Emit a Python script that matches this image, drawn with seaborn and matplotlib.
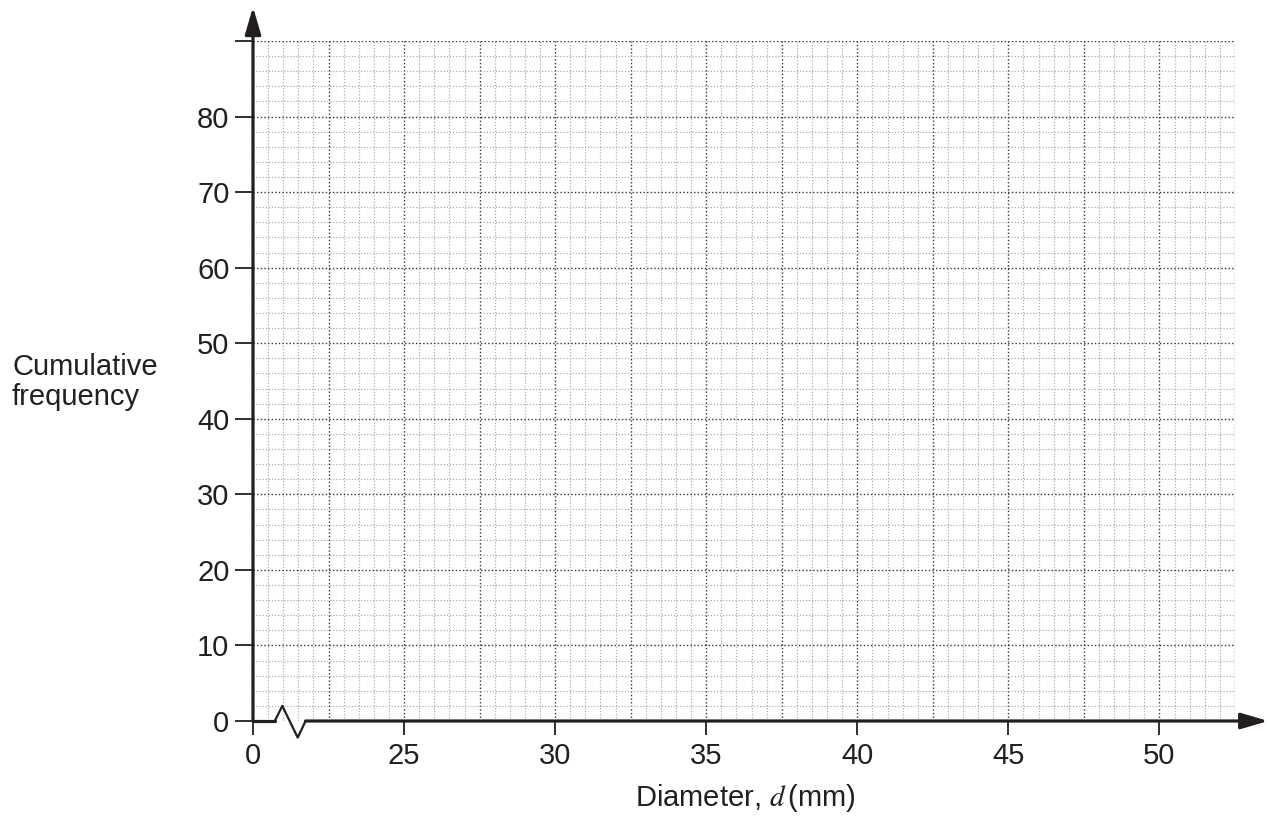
import matplotlib
matplotlib.use('Agg')
import matplotlib.pyplot as plt
import seaborn as sns
import numpy as np
import pandas as pd

# ---- data / axis definitions ----
x_tick_values = [20, 25, 30, 35, 40, 45, 50]
x_tick_labels = ['0', '25', '30', '35', '40', '45', '50']
y_tick_values = [0, 10, 20, 30, 40, 50, 60, 70, 80, 90]
y_tick_labels = ['0', '10', '20', '30', '40', '50', '60', '70', '80', '']
x_min, x_max = 20, 52.5
y_min, y_max = 0, 90
x_minor_step, x_major_step = 0.5, 2.5
y_minor_step, y_major_step = 2, 10
# axis-break zigzag on the x axis
break_x = [20.0, 20.72, 20.97, 21.48, 21.74]
break_y = [0.0, 0.0, 2.0, -2.2, 0.0]
x_arrow_end = 53.6
y_arrow_end = 94.5

sns.set_theme(style='white')
plt.rcParams['font.family'] = ['Liberation Sans', 'DejaVu Sans']
plt.rcParams['mathtext.fontset'] = 'stix'

ink = '#231f20'
fs = 21

fig = plt.figure(figsize=(12.71, 8.25), dpi=100)
W, H = 1271, 825
ax = fig.add_axes([253 / W, 1 - 721 / H, (1235 - 253) / W, (721 - 41) / H])
ax.set_xlim(x_min, x_max)
ax.set_ylim(y_min, y_max)
for s in ax.spines.values():
    s.set_visible(False)

dots = (0, (1.0, 1.6))
# vertical grid lines
xs = np.round(np.arange(x_min + x_minor_step, x_max + 1e-9, x_minor_step), 3)
for x in xs:
    major = abs((x - x_min) / x_major_step - round((x - x_min) / x_major_step)) < 1e-6
    ax.vlines(x, y_min, y_max, colors='#333333' if major else '#a8a8a8',
              linestyles=[dots], lw=1.0 if major else 0.85, zorder=1)
# horizontal grid lines
ys = np.round(np.arange(y_min + y_minor_step, y_max + 1e-9, y_minor_step), 3)
for y in ys:
    major = abs(y / y_major_step - round(y / y_major_step)) < 1e-6
    ax.hlines(y, x_min, x_max, colors='#333333' if major else '#a8a8a8',
              linestyles=[dots], lw=1.0 if major else 0.85, zorder=1)

# x axis: start segment + zigzag break
brk = pd.DataFrame({'x': break_x, 'y': break_y})
sns.lineplot(data=brk.iloc[:2], x='x', y='y', ax=ax, color=ink, lw=2.3,
             sort=False, clip_on=False, zorder=5)
sns.lineplot(data=brk.iloc[1:], x='x', y='y', ax=ax, color=ink, lw=1.6,
             sort=False, clip_on=False, zorder=5)

arrow_kw = dict(arrowstyle='-|>,head_length=0.75,head_width=0.22', lw=2.3,
                color=ink, mutation_scale=22, shrinkA=0, shrinkB=0)
ax.annotate('', xy=(x_arrow_end, 0), xytext=(break_x[-1], 0),
            arrowprops=arrow_kw, annotation_clip=False, zorder=6)
ax.annotate('', xy=(x_min, y_arrow_end), xytext=(x_min, 0),
            arrowprops=arrow_kw, annotation_clip=False, zorder=6)

ax.set_xticks(x_tick_values, x_tick_labels)
ax.set_yticks(y_tick_values, y_tick_labels)
ax.tick_params(axis='x', direction='out', length=10, width=1.3, color=ink,
               labelsize=fs, labelcolor=ink, pad=5, bottom=True)
ax.tick_params(axis='y', direction='out', length=13, width=1.3, color=ink,
               labelsize=fs, labelcolor=ink, pad=4, left=True)
ax.grid(False)
ax.set_xlabel('')
ax.set_ylabel('')

fig.text(12 / W, 1 - 375 / H, 'Cumulative', fontsize=fs, color=ink,
         ha='left', va='baseline')
fig.text(12 / W, 1 - 405 / H, 'frequency', fontsize=fs, color=ink,
         ha='left', va='baseline')
fig.text(745 / W, 1 - 806 / H, r'Diameter, $d\,$(mm)', fontsize=fs, color=ink,
         ha='center', va='baseline')

fig.savefig('out.png', dpi=100, facecolor='white')
